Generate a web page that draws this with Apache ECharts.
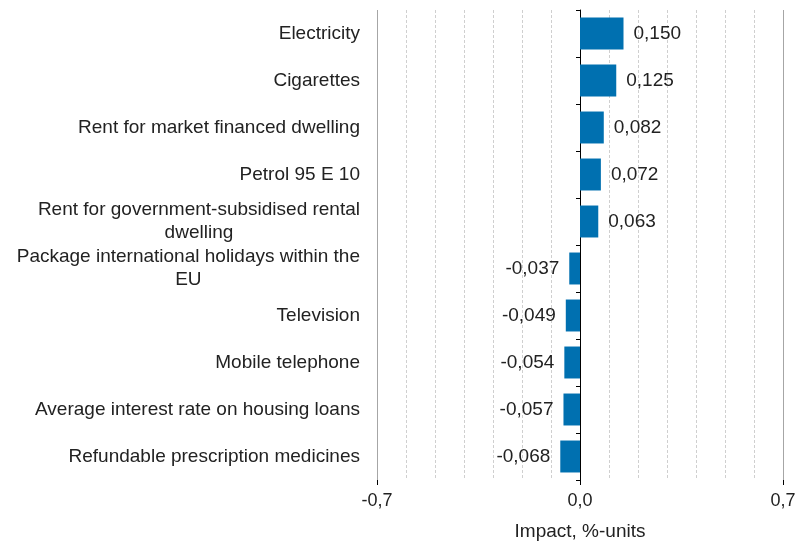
<!DOCTYPE html>
<html>
<head>
<meta charset="utf-8">
<script src="https://cdn.jsdelivr.net/npm/echarts@6/dist/echarts.min.js"></script>
<style>
  html, body { margin: 0; padding: 0; background: #fff; }
  #chart { width: 796px; height: 545px; }
</style>
</head>
<body>
<div id="chart"></div>
<script>
    'use strict';

    var categories = [
        'Electricity',
        'Cigarettes',
        'Rent for market financed dwelling',
        'Petrol 95 E 10',
        'Rent for government-subsidised rental\ndwelling',
        'Package international holidays within the\nEU',
        'Television',
        'Mobile telephone',
        'Average interest rate on housing loans',
        'Refundable prescription medicines'
    ];
    var impact = [0.150, 0.125, 0.082, 0.072, 0.063, -0.037, -0.049, -0.054, -0.057, -0.068];
    var axisTicks = [-0.7, 0.0, 0.7];

    var font = 'Liberation Sans, Arial, sans-serif';
    var fmt = function(v, d) {
        return v.toFixed(d).replace('.', ',');
    };

    var chart = echarts.init(document.getElementById('chart'));

    var barData = impact.map(function(v) {
        return {
            value: v,
            label: { position: v < 0 ? 'left' : 'right' }
        };
    });

    var option = {
        animation: false,
        grid: { left: 377, right: 13, top: 10, bottom: 65, outerBoundsMode: 'none', containLabel: false },
        xAxis: [{
            type: 'value',
            position: 'bottom',
            min: -0.7,
            max: 0.7,
            interval: 0.1,
            z: 0,
            axisLine: { show: false },
            axisTick: { show: false },
            axisLabel: { show: false },
            splitLine: { show: true, lineStyle: { color: '#cfcfcf', type: [3, 2] } }
        }, {
            type: 'value',
            position: 'bottom',
            min: axisTicks[0],
            max: axisTicks[2],
            interval: 0.7,
            z: 1,
            name: 'Impact, %-units',
            nameLocation: 'middle',
            nameGap: 42,
            nameTextStyle: { fontFamily: font, fontSize: 19, color: '#222' },
            axisLine: { onZero: false, lineStyle: { color: '#000', width: 1 } },
            axisTick: { show: true, length: 5, lineStyle: { color: '#000' } },
            axisLabel: {
                fontFamily: font, fontSize: 18, color: '#222', margin: 12,
                formatter: function(v) { return fmt(v, 1); }
            },
            splitLine: { show: true, lineStyle: { color: '#a6a6a6', type: 'solid' } }
        }],
        yAxis: [{
            type: 'category',
            data: categories,
            inverse: true,
            axisLine: { show: false, onZero: false },
            axisTick: { show: false },
            axisLabel: {
                fontFamily: font, fontSize: 19, color: '#222', margin: 17,
                lineHeight: 23,
                formatter: function(v) {
                    return v.split('\n').map(function(s) { return '{c|' + s + '}'; }).join('\n');
                },
                rich: { c: { align: 'center', fontFamily: font, fontSize: 19, color: '#222', lineHeight: 23 } }
            }
        }, {
            type: 'category',
            data: categories,
            inverse: true,
            position: 'left',
            z: 2,
            axisLine: { show: true, onZero: true, onZeroAxisIndex: 1, lineStyle: { color: '#000', width: 1 } },
            axisTick: { show: true, length: 4, lineStyle: { color: '#000' } },
            axisLabel: { show: false }
        }],
        series: [{
            type: 'bar',
            xAxisIndex: 1,
            yAxisIndex: 0,
            data: barData,
            barWidth: '68%',
            itemStyle: { color: '#0070b0' },
            label: {
                show: true,
                distance: 10,
                fontFamily: font,
                fontSize: 19,
                color: '#222',
                formatter: function(p) { return fmt(p.value, 3); }
            }
        }]
    };

    chart.setOption(option);
</script>
</body>
</html>
